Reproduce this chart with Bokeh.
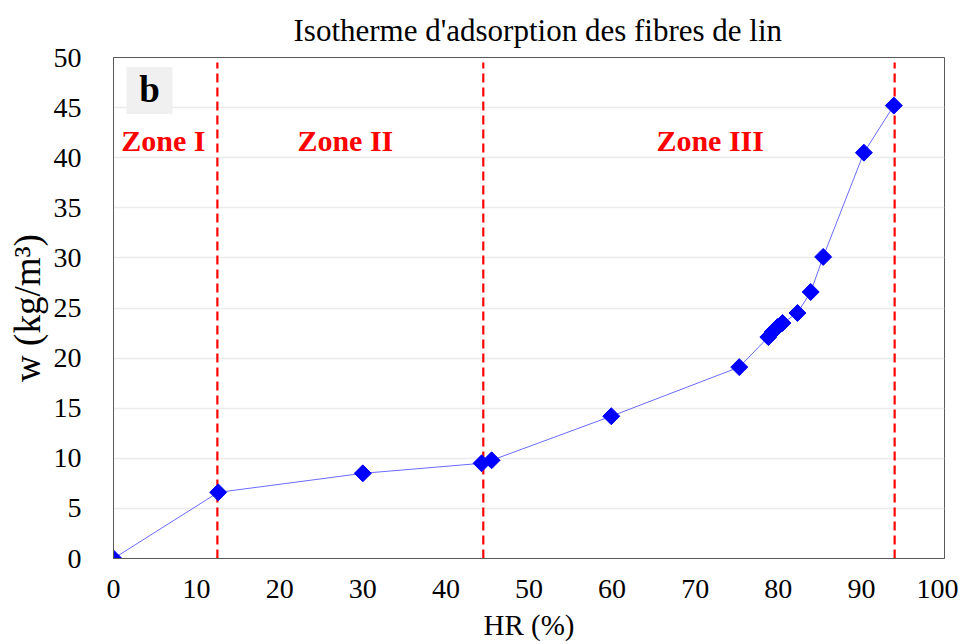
from bokeh.plotting import figure
from bokeh.models import Range1d, FixedTicker, Label
from bokeh.core.properties import value
from bokeh.embed import file_html
from bokeh.resources import INLINE
import numpy as np

# Data
hr = [0, 12.6, 30.0, 44.3, 45.5, 59.9, 75.3, 78.8, 79.3, 79.9, 80.5, 82.3, 83.9, 85.4, 90.3, 93.9]
w = [0, 6.6, 8.5, 9.5, 9.8, 14.2, 19.1, 22.1, 22.6, 23.1, 23.5, 24.5, 26.6, 30.1, 40.5, 45.2]
zone_bounds = [12.5, 44.5, 94.0]
zone_names = ["Zone I", "Zone II", "Zone III"]
x_ticks = [0, 10, 20, 30, 40, 50, 60, 70, 80, 90, 100]
y_ticks = [0, 5, 10, 15, 20, 25, 30, 35, 40, 45, 50]

FONT = "Liberation Serif"

p = figure(frame_width=831, frame_height=501, output_backend="svg", toolbar_location=None,
           x_range=Range1d(0, 100), y_range=Range1d(0, 50),
           min_border_left=113, min_border_top=57, min_border_bottom=86, min_border_right=14,
           title="Isotherme d'adsorption des fibres de lin")

p.title.text_font = FONT
p.title.text_font_size = "31px"
p.title.text_font_style = "normal"
p.title.align = "left"
p.title.offset = 180
p.title.standoff = 20
p.title.text_color = "#000000"

p.background_fill_color = "white"
p.outline_line_color = "#595959"
p.outline_line_width = 1

p.xgrid.grid_line_color = None
p.ygrid.grid_line_color = "#ebebeb"
p.ygrid.grid_line_width = 1.5
p.xaxis.ticker = FixedTicker(ticks=x_ticks)
p.yaxis.ticker = FixedTicker(ticks=y_ticks)

for axes in (p.xaxis, p.yaxis):
    axes.major_label_text_font = FONT
    axes.major_label_text_font_size = "28px"
    axes.major_label_text_color = "#000000"
    axes.axis_label_text_font = FONT
    axes.axis_label_text_font_style = "normal"
    axes.axis_label_text_color = "#000000"
    axes.major_tick_line_color = None
    axes.minor_tick_line_color = None
    axes.axis_line_color = "#595959"

p.xaxis.axis_label = "HR (%)"
p.xaxis.axis_label_text_font_size = "29px"
p.xaxis.major_label_standoff = 15
p.xaxis.axis_label_standoff = 8
p.yaxis.axis_label = "w (kg/m³)"
p.yaxis.axis_label_text_font_size = "37px"
p.yaxis.major_label_standoff = 26
p.yaxis.axis_label_standoff = 3

# zone boundaries
p.segment(x0=zone_bounds, y0=[0] * 3, x1=zone_bounds, y1=[49.5] * 3,
          line_color="#ff0000", line_width=2.2, line_dash="9 5")

# series
p.line(hr, w, line_color="#6b6bff", line_width=1)
p.scatter(hr, w, marker="square", size=12, angle=np.pi / 4,
          fill_color="#0000ff", line_color="#0000ff")

# zone labels
zx = [6.0, 27.9, 71.8]
for name, xx in zip(zone_names, zx):
    p.add_layout(Label(x=xx, y=41.75, text=name, text_font=FONT, text_font_size="30px",
                       text_font_style="bold", text_color="#ff0000",
                       text_align="center", text_baseline="alphabetic"))

# panel letter
p.rect(x=[4.33], y=[46.7], width=46, height=47, width_units="screen", height_units="screen",
       fill_color="#f0f0f0", line_color=None)
p.text(x=[4.33], y=[46.85], text=["b"], text_font=value(FONT), text_font_size="37px",
       text_font_style="bold", text_color="#000000", text_align="center", text_baseline="alphabetic")

open("out.html", "w").write(file_html(p, INLINE))
